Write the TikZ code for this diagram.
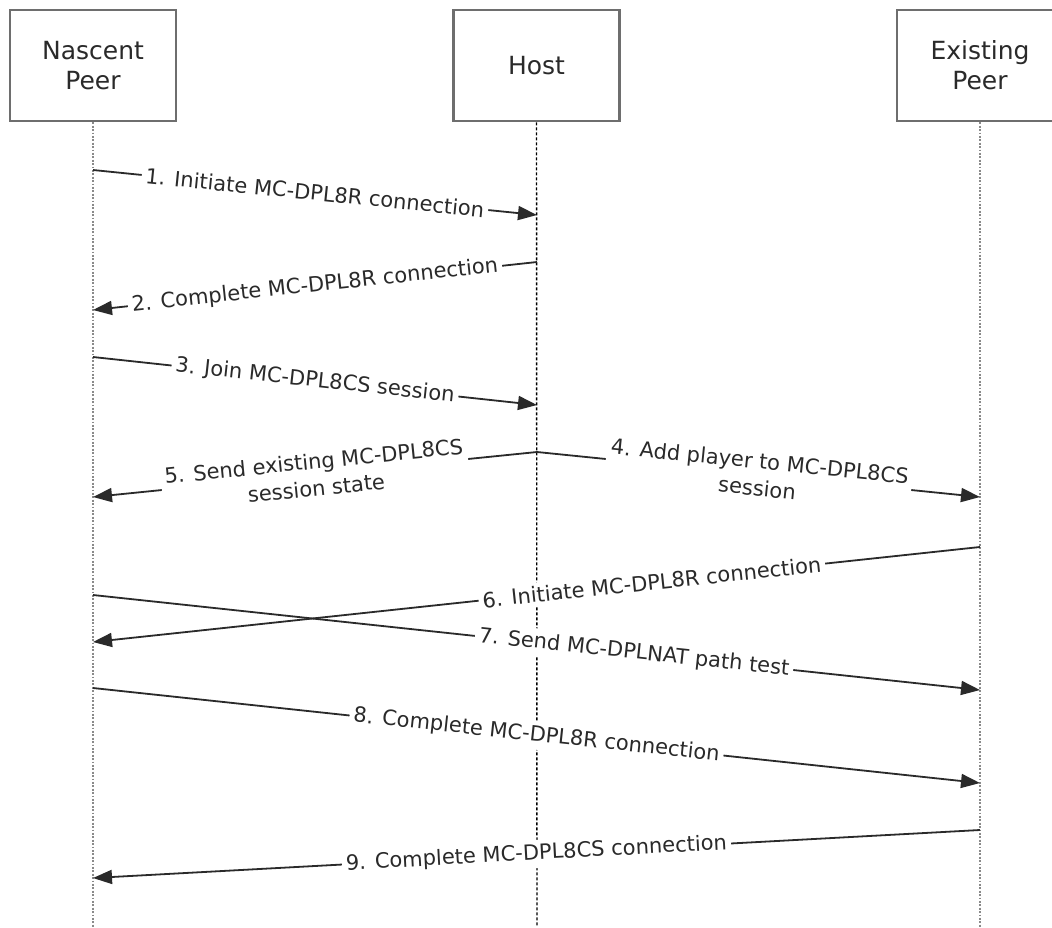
\documentclass[tikz,border=0pt]{standalone}
\usepackage{fontspec}
\setmainfont{DejaVu Sans}
\usetikzlibrary{arrows.meta}
\definecolor{boxgray}{HTML}{6E6E6E}
\definecolor{txt}{HTML}{2A2A2A}
\definecolor{lifegray}{HTML}{8A8A8A}
\begin{document}
\begin{tikzpicture}[x=1pt,y=-1pt,
  actor/.style={draw=boxgray, line width=2.6pt, minimum width=166pt, minimum height=111pt,
    align=center, font=\fontsize{25}{30}\selectfont, text=txt, inner sep=0pt},
  life/.style={draw=lifegray, line width=2.2pt, dash pattern=on 1.8pt off 1.6pt},
  hostlife/.style={draw=black, line width=1.4pt, dash pattern=on 3pt off 2pt},
  msg/.style={draw=txt, line width=1.8pt, -{Triangle[length=19pt,width=14pt]}},
  lbl/.style={fill=white, sloped, font=\fontsize{21}{27}\selectfont, text=txt,
    inner sep=4pt, align=center}]
\clip (0,0) rectangle (1052,927);
\fill[white] (0,0) rectangle (1052,927);

% actors
\node[actor] (N) at (93,65.5) {Nascent\\Peer};
\node[actor] (H) at (536.5,65.5) {Host};
\node[actor] (E) at (980,65.5) {Existing\\Peer};

% lifelines
\coordinate (Nend) at (93,927);
\coordinate (Hend) at (537,927);
\coordinate (Eend) at (980,927);
\draw[life] (N.south) -- (Nend);
\draw[hostlife] (H.south) -- (Hend);
\draw[life] (E.south) -- (Eend);

% message end points
\coordinate (n1) at (93,170);  \coordinate (h1) at (537,215);
\coordinate (h2) at (537,262); \coordinate (n2) at (93,310);
\coordinate (n3) at (93,357);  \coordinate (h3) at (537,405);
\coordinate (h4) at (537,452); \coordinate (e4) at (980,497);
\coordinate (n5) at (93,497);
\coordinate (e6) at (980,547); \coordinate (n6) at (93,642);
\coordinate (n7) at (93,595);  \coordinate (e7) at (980,690);
\coordinate (n8) at (93,688);  \coordinate (e8) at (980,783);
\coordinate (e9) at (980,830); \coordinate (n9) at (93,878);

% messages
\draw[msg] (n1) -- node[lbl]{1. Initiate MC-DPL8R connection} (h1);
\draw[msg] (h2) -- node[lbl]{2. Complete MC-DPL8R connection} (n2);
\draw[msg] (n3) -- node[lbl]{3. Join MC-DPL8CS session} (h3);
\draw[msg] (h4) -- node[lbl]{4. Add player to MC-DPL8CS\\session} (e4);
\draw[msg] (h4) -- node[lbl]{5. Send existing MC-DPL8CS\\session state} (n5);
\draw[msg] (e6) -- node[lbl,pos=0.37]{6. Initiate MC-DPL8R connection} (n6);
\draw[msg] (n7) -- node[lbl,pos=0.61]{7. Send MC-DPLNAT path test} (e7);
\draw[msg] (n8) -- node[lbl]{8. Complete MC-DPL8R connection} (e8);
\draw[msg] (e9) -- node[lbl]{9. Complete MC-DPL8CS connection} (n9);
\end{tikzpicture}
\end{document}
